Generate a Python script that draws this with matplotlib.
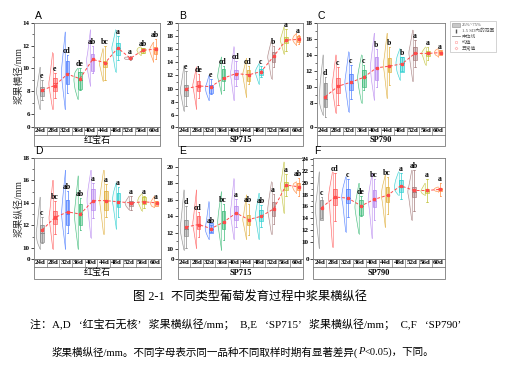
import numpy as np
import matplotlib
matplotlib.use('Agg')
import matplotlib.pyplot as plt
from matplotlib.patches import Rectangle, Patch
from matplotlib.lines import Line2D

plt.rcParams['font.family'] = ['Liberation Serif', 'Noto Sans CJK SC', 'DejaVu Sans']

categories = ['24d', '28d', '32d', '36d', '40d', '44d', '48d', '52d', '56d', '60d']
colors = ['#8A8A8A', '#FF5C5C', '#4F7FFF', '#3DBB78', '#B98AF0',
          '#E0AE3A', '#2CCFD0', '#A57C7C', '#C2C23A', '#FF8A3D']

# ---------- Panel A: 红宝石 横径 ----------
A_vmin = [6.4, 6.4, 6.4, 7.3, 8.5, 8.9, 9.7, 10.8, 11.15, 10.6]
A_vmax = [10.1, 11.4, 13.2, 10.0, 13.4, 11.75, 13.4, 11.0, 11.9, 12.3]
A_q1 = [7.6, 8.0, 8.6, 8.2, 9.8, 10.1, 11.2, 10.8, 11.4, 11.3]
A_med = [8.0, 8.7, 9.6, 9.0, 10.8, 10.5, 11.8, 10.9, 11.6, 11.6]
A_q3 = [8.4, 9.2, 10.7, 9.7, 11.3, 10.7, 12.2, 11.0, 11.8, 11.9]
A_mean = [8.1, 8.5, 9.5, 9.1, 10.8, 10.5, 11.8, 10.9, 11.6, 11.7]
A_sd = [0.61, 0.74, 1.13, 0.64, 0.79, 0.99, 0.71, 0.13, 0.16, 0.58]
A_letters = ['e', 'e', 'cd', 'de', 'ab', 'bc', 'a', 'a', 'ab', 'ab']

# ---------- Panel B: SP715 横径 ----------
B_vmin = [6.6, 6.9, 8.2, 9.2, 8.2, 8.7, 10.7, 11.5, 15.3, 16.6]
B_vmax = [13.5, 13.3, 12.0, 14.8, 16.4, 14.6, 13.8, 17.4, 19.4, 18.4]
B_q1 = [8.9, 9.7, 9.4, 11.2, 11.5, 11.2, 12.0, 14.0, 16.9, 17.1]
B_med = [9.8, 10.4, 10.3, 11.8, 12.3, 12.2, 12.5, 14.8, 17.4, 17.5]
B_q3 = [10.5, 11.2, 10.5, 13.0, 12.8, 12.8, 13.0, 15.6, 17.9, 18.0]
B_mean = [10.0, 10.4, 10.3, 11.6, 12.3, 12.1, 12.6, 14.9, 17.4, 17.5]
B_sd = [1.79, 1.18, 0.73, 1.23, 1.28, 0.90, 0.57, 1.09, 1.13, 0.45]
B_letters = ['e', 'de', 'e', 'cd', 'cd', 'cd', 'c', 'b', 'a', 'a']

# ---------- Panel C: SP790 横径 ----------
C_vmin = [6.5, 6.75, 6.9, 8.0, 8.4, 8.6, 10.9, 10.7, 12.75, 13.8]
C_vmax = [14.0, 14.0, 14.4, 14.0, 16.7, 16.7, 14.8, 17.1, 15.0, 14.8]
C_q1 = [7.5, 9.2, 9.6, 10.0, 10.9, 11.9, 11.9, 13.4, 13.9, 14.0]
C_med = [8.5, 10.2, 10.5, 11.2, 12.5, 12.8, 13.0, 14.3, 14.2, 14.3]
C_q3 = [10.5, 11.1, 11.6, 12.1, 13.8, 13.6, 13.8, 15.0, 14.5, 14.6]
C_mean = [8.8, 10.1, 10.6, 11.2, 12.4, 12.6, 12.9, 14.2, 14.2, 14.3]
C_sd = [1.67, 1.60, 1.40, 1.07, 1.57, 1.60, 0.60, 1.13, 0.53, 0.13]
C_letters = ['d', 'c', 'c', 'c', 'b', 'b', 'b', 'a', 'a', 'a']

# ---------- Panel D: 红宝石 纵径 ----------
D_vmin = [9.9, 9.9, 9.9, 9.9, 10.9, 11.2, 11.7, 13.4, 13.3, 13.6]
D_vmax = [14.5, 16.0, 16.9, 16.4, 16.9, 16.9, 15.8, 14.6, 14.8, 14.6]
D_q1 = [10.5, 12.1, 12.0, 12.0, 13.4, 13.4, 13.6, 13.7, 13.9, 13.7]
D_med = [11.3, 12.6, 13.0, 13.0, 14.2, 14.2, 14.2, 14.0, 14.2, 14.0]
D_q3 = [12.0, 13.3, 14.3, 13.9, 15.2, 15.1, 14.9, 14.2, 14.5, 14.2]
D_mean = [11.6, 12.7, 13.2, 13.0, 14.2, 14.2, 14.1, 14.0, 14.1, 14.0]
D_sd = [0.76, 0.96, 1.23, 0.96, 1.03, 0.96, 0.89, 0.43, 0.36, 0.09]
D_letters = ['c', 'bc', 'ab', 'ab', 'a', 'a', 'a', 'a', 'a', 'a']

# ---------- Panel E: SP715 纵径 ----------
E_vmin = [9.9, 10.1, 11.2, 9.9, 11.2, 11.2, 11.2, 11.8, 14.4, 16.8]
E_vmax = [17.2, 17.2, 15.8, 17.0, 18.6, 16.6, 16.8, 18.2, 20.6, 18.2]
E_q1 = [11.6, 12.4, 11.95, 12.4, 13.6, 13.0, 13.4, 14.0, 17.2, 17.2]
E_med = [12.5, 13.0, 12.5, 13.2, 14.4, 13.6, 14.0, 14.8, 17.7, 17.6]
E_q3 = [13.6, 14.0, 13.2, 14.6, 15.2, 14.2, 14.8, 15.8, 18.2, 18.0]
E_mean = [12.7, 13.0, 12.5, 13.3, 14.4, 13.6, 14.0, 14.9, 17.8, 17.6]
E_sd = [1.68, 1.01, 0.28, 1.48, 1.15, 1.28, 0.88, 1.21, 0.88, 0.75]
E_letters = ['d', 'cd', 'ab', 'bc', 'a', 'ab', 'ab', 'a', 'a', 'ab']

# ---------- Panel F: SP790 纵径 ----------
F_vmin = [8.9, 9.1, 11.7, 11.4, 10.6, 12.5, 17.9, 13.7, 17.9, 18.5]
F_vmax = [21.85, 21.85, 21.0, 19.9, 21.6, 21.3, 21.85, 22.1, 19.9, 19.3]
F_q1 = [13.7, 16.2, 16.5, 14.5, 15.9, 16.8, 18.5, 17.6, 18.2, 18.6]
F_med = [15.8, 17.5, 17.5, 16.0, 17.0, 17.9, 19.3, 18.5, 18.6, 18.9]
F_q3 = [17.05, 19.0, 19.0, 17.05, 18.7, 19.3, 20.4, 19.3, 19.0, 19.1]
F_mean = [15.8, 17.6, 17.4, 16.1, 17.2, 17.9, 19.5, 18.7, 18.7, 18.9]
F_sd = [1.15, 2.68, 2.15, 1.15, 2.28, 2.08, 1.48, 2.28, 1.28, 0.75]
F_letters = ['c', 'cd', 'c', 'de', 'bc', 'bc', 'a', 'ab', 'a', 'a']

W, H = 510.0, 365.0
fig = plt.figure(figsize=(5.1, 3.65), dpi=100)
fig.patch.set_facecolor('white')
FRAME = '#7A7A7A'
CJK = ['Liberation Serif', 'Noto Sans CJK SC']


def frect(l, t, r, b):
    return [l / W, 1 - b / H, (r - l) / W, (b - t) / H]


panels = [
    dict(tag='A', px=(34, 23, 160, 127, 146), ylim=(4.85, 14), ticks=[6, 8, 10, 12, 14],
         group='红宝石', data=(A_vmin, A_vmax, A_q1, A_med, A_q3, A_mean, A_sd, A_letters),
         ylabel='浆果横径/mm'),
    dict(tag='B', px=(178, 23, 303, 127, 146), ylim=(4.15, 20), ticks=[6, 8, 10, 12, 14, 16, 18, 20],
         group='SP715', data=(B_vmin, B_vmax, B_q1, B_med, B_q3, B_mean, B_sd, B_letters)),
    dict(tag='C', px=(317, 23, 445, 127, 146), ylim=(5.0, 18), ticks=[8, 10, 12, 14, 16, 18],
         group='SP790', data=(C_vmin, C_vmax, C_q1, C_med, C_q3, C_mean, C_sd, C_letters)),
    dict(tag='D', px=(34, 158, 161, 259, 279), ylim=(9.0, 18), ticks=[10, 12, 14, 16, 18],
         group='红宝石', data=(D_vmin, D_vmax, D_q1, D_med, D_q3, D_mean, D_sd, D_letters),
         ylabel='浆果纵径/mm'),
    dict(tag='E', px=(178, 158, 303, 259, 279), ylim=(8.8, 21.1), ticks=[10, 12, 14, 16, 18, 20],
         group='SP715', data=(E_vmin, E_vmax, E_q1, E_med, E_q3, E_mean, E_sd, E_letters)),
    dict(tag='F', px=(313, 158, 445, 259, 279), ylim=(7.1, 24.2), ticks=[10, 12, 14, 16, 18, 20, 22, 24],
         group='SP790', data=(F_vmin, F_vmax, F_q1, F_med, F_q3, F_mean, F_sd, F_letters)),
]

for p in panels:
    l, t, r, b, tb = p['px']
    ax = fig.add_axes(frect(l, t, r, b))
    vmin, vmax, q1, med, q3, mean, sd, letters = p['data']
    n = len(categories)
    xb_list = []
    for i in range(n):
        c = colors[i]
        xc = i - 0.02
        # half violin (left)
        ys = np.linspace(vmin[i], vmax[i], 80)
        ky = np.array([vmin[i], q1[i], med[i], q3[i], vmax[i]])
        ky = np.maximum.accumulate(ky + np.arange(5) * 1e-4)
        kw = [0.0, 0.72, 1.0, 0.72, 0.0]
        wv = np.interp(ys, ky, kw)
        kern = np.ones(9) / 9.0
        wv = np.convolve(np.pad(wv, 4, mode='edge'), kern, mode='valid')
        wv[0] = wv[-1] = 0
        xs = xc - 0.32 * wv
        ax.fill_betweenx(ys, xs, xc, facecolor=c, alpha=0.07, lw=0, zorder=1)
        ax.plot(xs, ys, color=c, lw=0.45, alpha=0.9, zorder=2)
        ax.plot([xc, xc], [vmin[i], vmax[i]], color=c, lw=0.4, alpha=0.9, zorder=2)
        # whiskers (mean +/- 1.5 SD)
        xb = xc + 0.17
        xb_list.append(xb)
        lo, hi = mean[i] - 1.5 * sd[i], mean[i] + 1.5 * sd[i]
        ax.plot([xb, xb], [lo, hi], color=c, lw=0.5, zorder=3)
        ax.plot([xb - 0.06, xb + 0.06], [hi, hi], color=c, lw=0.5, zorder=3)
        ax.plot([xb - 0.06, xb + 0.06], [lo, lo], color=c, lw=0.5, zorder=3)
        # box
        ax.add_patch(Rectangle((xc + 0.03, q1[i]), 0.28, q3[i] - q1[i],
                               facecolor=c, alpha=0.45, lw=0, zorder=4))
        ax.add_patch(Rectangle((xc + 0.03, q1[i]), 0.28, q3[i] - q1[i],
                               facecolor='none', edgecolor=c, lw=0.5, zorder=4))
        ax.plot([xc + 0.03, xc + 0.31], [med[i], med[i]], color=c, lw=0.7, zorder=5)
        # letter
        ax.text(xb - 0.04, hi, letters[i], ha='center', va='bottom', fontsize=5.6,
                fontweight='bold', family='Liberation Serif', zorder=6)
    ax.plot(xb_list, mean, color='#FF4A4A', lw=0.7, ls=(0, (3, 2)), marker='s',
            ms=1.4, mfc='#FF4A4A', mec='#FF4A4A', zorder=7)

    ax.set_xlim(-0.5, n - 0.5)
    ax.set_ylim(*p['ylim'])
    ax.set_xticks([])
    ax.set_yticks([p['ylim'][0]] + p['ticks'])
    ax.set_yticklabels(['0'] + [str(v) for v in p['ticks']])
    minor = [v + 1 for v in p['ticks'][:-1]]
    ax.set_yticks(minor, minor=True)
    ax.tick_params(axis='y', which='major', length=2, width=0.5, pad=1.0,
                   labelsize=5, colors='black')
    ax.tick_params(axis='y', which='minor', length=1.2, width=0.4)
    for lab in ax.get_yticklabels():
        lab.set_fontweight('bold')
    for s in ax.spines.values():
        s.set_color(FRAME)
        s.set_linewidth(0.6)

    # label table beneath
    axt = fig.add_axes(frect(l, b, r, tb))
    axt.set_xlim(-0.5, n - 0.5)
    axt.set_ylim(0, 1)
    axt.axis('off')
    split = 1 - 7.5 / (tb - b)
    axt.add_patch(Rectangle((-0.5, 0), n, 1, fill=False, edgecolor=FRAME, lw=0.6, clip_on=False))
    axt.plot([-0.5, n - 0.5], [split, split], color=FRAME, lw=0.6, clip_on=False)
    for i in range(n - 1):
        axt.plot([i + 0.5, i + 0.5], [split, 1], color=FRAME, lw=0.5, clip_on=False)
    for i, cat in enumerate(categories):
        axt.text(i, (split + 1) / 2, cat, ha='center', va='center', fontsize=5,
                 fontweight='bold', family='Liberation Serif')
    if p['group'] == '红宝石':
        axt.text((n - 1) / 2, split / 2, p['group'], ha='center', va='center', fontsize=6.5,
                 family=['Noto Sans CJK SC'])
    else:
        axt.text((n - 1) / 2, split / 2, p['group'], ha='center', va='center', fontsize=6,
                 fontweight='bold', family='Liberation Serif')

    # panel tag
    fig.text((l + 1) / W, 1 - (t - 2) / H, p['tag'], ha='left', va='bottom', fontsize=7.5,
             family='Liberation Sans')
    if 'ylabel' in p:
        fig.text(19 / W, 1 - ((t + b) / 2) / H, p['ylabel'], rotation=90, ha='center',
                 va='center', fontsize=7, color='#333333', family=CJK)

# legend
handles = [
    Patch(facecolor='#C8C8C8', edgecolor='#909090', lw=0.4),
    Line2D([], [], color='#555555', marker='$\\mathrm{I}$', ls='None', ms=3.5),
    Line2D([], [], color='#888888', lw=0.6),
    Line2D([], [], color='#FF9A9A', marker='s', ls='None', ms=1.5, mfc='none', mew=0.4),
    Line2D([], [], color='#FF9A9A', marker='D', ls='None', ms=1.5, mfc='none', mew=0.4),
]
labels = ['25%~75%', '1.5 SD内的范围', '中位线', '均值', '异常值']
leg = fig.legend(handles, labels, loc='upper left', bbox_to_anchor=(448 / W, 1 - 19 / H),
                 frameon=True, handlelength=1.6, handleheight=0.8,
                 borderpad=0.35, labelspacing=0.25, handletextpad=0.5, fancybox=False,
                 prop={'family': CJK, 'size': 3.4})
leg.get_frame().set_edgecolor('#A0A0A0')
leg.get_frame().set_linewidth(0.4)
for txt in leg.get_texts():
    txt.set_color('#555555')

# caption and notes
fig.text(250 / W, 1 - 298 / H, '图 2-1  不同类型葡萄发育过程中浆果横纵径', ha='center', va='center',
         fontsize=8.8, family=CJK)
fig.text(30 / W, 1 - 324 / H,
         '注：A,D   ‘红宝石无核’   浆果横纵径/mm；  B,E   ‘SP715’   浆果横纵径/mm；  C,F   ‘SP790’',
         ha='left', va='center', fontsize=7.9, family=CJK)
t1 = fig.text(52 / W, 1 - 352 / H,
              '浆果横纵径/mm。不同字母表示同一品种不同取样时期有显著差异(',
              ha='left', va='center', fontsize=7.6, family=CJK)
t2 = plt.annotate('P', xy=(1, 0.5), xycoords=t1, xytext=(0, 0), textcoords='offset points',
                  ha='left', va='center', fontsize=7.6, style='italic', family='Liberation Serif')
plt.annotate('<0.05)，下同。', xy=(1, 0.5), xycoords=t2, ha='left', va='center', fontsize=7.6,
             family=CJK)

fig.savefig('out.png', dpi=100, facecolor='white')
